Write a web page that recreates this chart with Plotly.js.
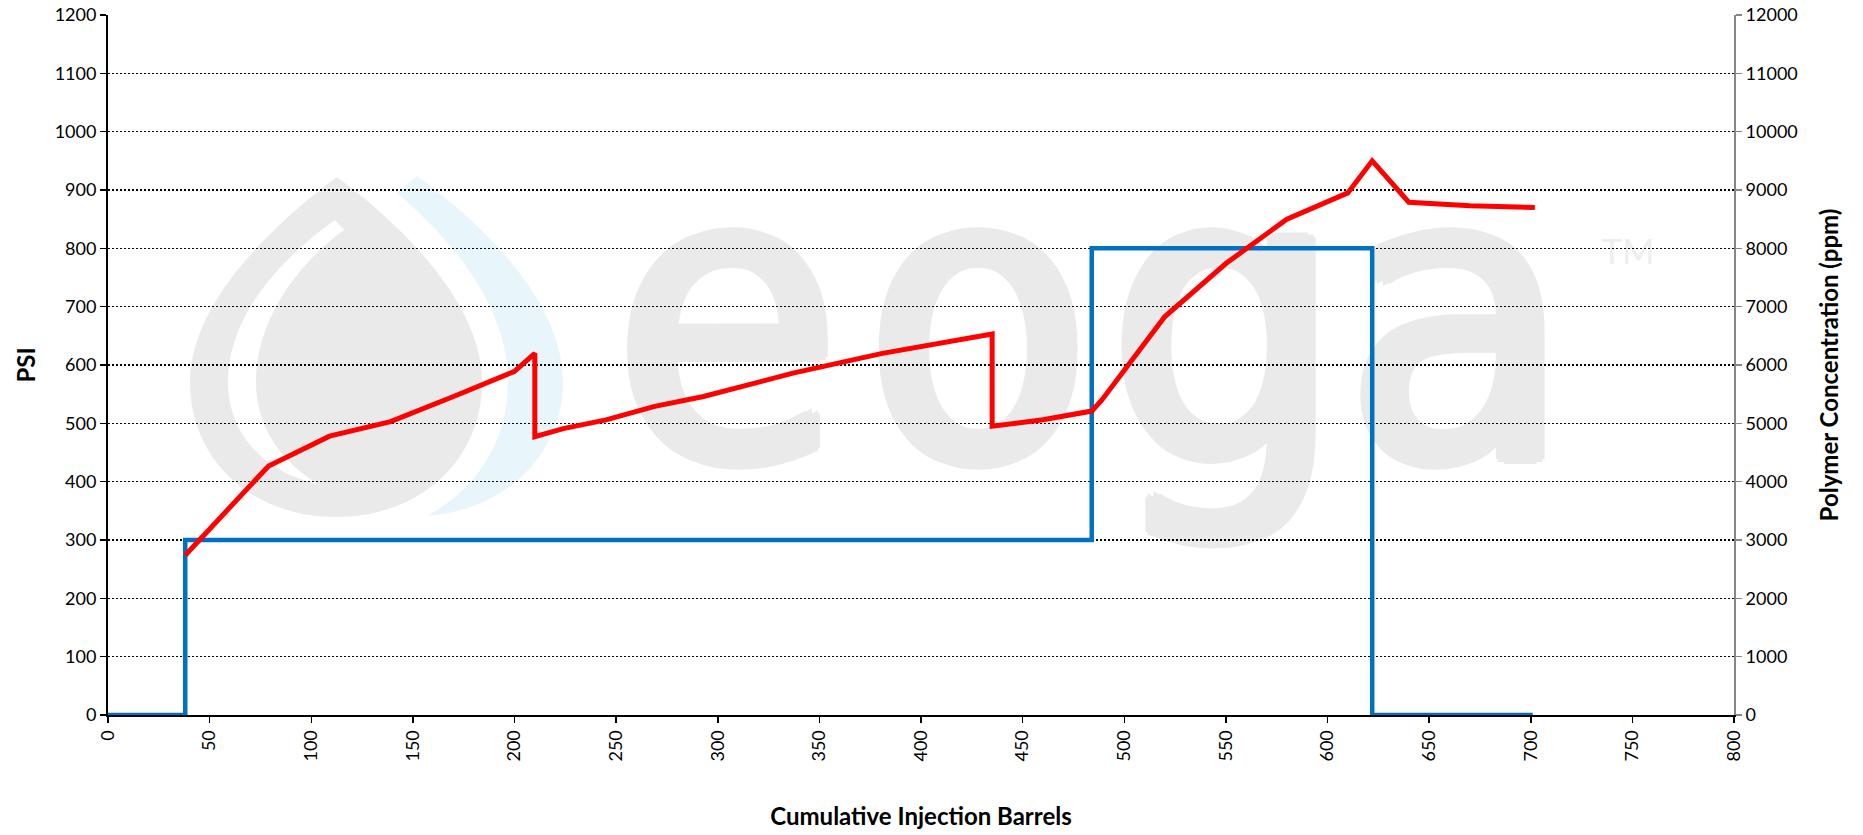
<!DOCTYPE html>
<html>
<head>
<meta charset="utf-8">
<script src="https://cdn.plot.ly/plotly-3.0.1.min.js"></script>
<style>
html,body{margin:0;padding:0;background:#ffffff;}
#chart{width:1863px;height:835px;}
</style>
</head>
<body>
<div id="chart"></div>
<script>
// ---- Data ----
const pressureBarrels = [38, 79, 109, 139, 170, 200, 210, 210, 224, 245, 269, 293, 337, 381, 435, 435, 460, 484, 489, 520, 550, 580, 610, 622, 640, 670, 702];
const pressurePsi     = [274, 427, 478, 503, 546, 589, 620, 477, 491, 506, 529, 546, 586, 620, 653, 495, 506, 521, 540, 683, 774, 850, 895, 950, 879, 873, 870];

const polymerBarrels = [0, 38, 484, 622, 701];
const polymerPpm     = [0, 3000, 8000, 0, 0];

const xTitle = 'Cumulative Injection Barrels';
const yLeftTitle = 'PSI';
const yRightTitle = 'Polymer Concentration (ppm)';
const watermarkLetters = ['e', 'o', 'g', 'a'];
const watermarkMark = 'TM';

// ---- Plot-area geometry (pixels) used to place the decorative watermark ----
const PL = 108, PR = 1734, PT = 15, PB = 715;
const PW = PR - PL, PH = PB - PT;
function px(X){ return (X - PL) / PW; }
function py(Y){ return (PB - Y) / PH; }
function toPaperPath(d){
  const toks = d.trim().split(/\s+/);
  const out = []; let isX = true;
  for (const t of toks){
    if (/^[A-Za-z]$/.test(t)){ out.push(t); isX = true; continue; }
    const v = parseFloat(t);
    out.push(isX ? px(v).toFixed(5) : py(v).toFixed(5));
    isX = !isX;
  }
  return out.join(' ');
}

const dropPath   = 'M 337 177 C 372 203 482 290 482 382 C 482 462 418 517 336 517 C 254 517 190 462 190 382 C 190 290 302 203 337 177 Z';
const glintPath  = 'M 335 220 C 290 252 228 310 228 382 C 228 432 262 472 318 484 C 282 462 256 428 256 382 C 256 318 300 262 344 230 Z';
const swooshPath = 'M 417 176 C 480 222 563 300 563 382 C 563 455 505 510 427 516 C 478 488 508 440 508 382 C 508 305 450 238 397 193 Z';

const letterCenters = [727, 978, 1225, 1458];
const thick = 'rgb(234,234,234)';
const letterShadow = [
  '8px 0 0 ' + thick, '-8px 0 0 ' + thick, '0 5px 0 ' + thick, '0 -5px 0 ' + thick,
  '6px 3px 0 ' + thick, '-6px 3px 0 ' + thick, '6px -3px 0 ' + thick, '-6px -3px 0 ' + thick,
  '4px 0 0 ' + thick, '-4px 0 0 ' + thick
].join(', ');
const letterFont = {family:"'DejaVu Sans Condensed', 'DejaVu Sans', sans-serif", size:405, color:'#EAEAEA', shadow: letterShadow};
const letterMidY = 290;

const shapes = [
  {type:'path', xref:'paper', yref:'paper', layer:'below', path: toPaperPath(dropPath), fillcolor:'#EAEAEA', line:{width:0}},
  {type:'path', xref:'paper', yref:'paper', layer:'below', path: toPaperPath(glintPath), fillcolor:'#FFFFFF', line:{width:0}},
  {type:'path', xref:'paper', yref:'paper', layer:'below', path: toPaperPath(swooshPath), fillcolor:'#E8F6FC', line:{width:0}}
];
watermarkLetters.forEach(function(ch, i){
  const cx = letterCenters[i];
  shapes.push({type:'rect', xref:'paper', yref:'paper', layer:'below',
    x0: px(cx - 110), x1: px(cx + 110), y0: py(letterMidY + 20), y1: py(letterMidY - 20),
    fillcolor:'rgba(0,0,0,0)', line:{width:0},
    label:{text: ch, textposition:'middle center', font: letterFont}});
});
shapes.push({type:'rect', xref:'paper', yref:'paper', layer:'below',
   x0: px(1600), x1: px(1656), y0: py(262), y1: py(238),
   fillcolor:'rgba(0,0,0,0)', line:{width:0},
   label:{text: watermarkMark, textposition:'middle center',
          font:{family:'Lato, sans-serif', size:35, color:'#EEEEEE'}}});

const tickFont = {family:'Lato, sans-serif', size:18, color:'#000000'};
const titleFont = {family:'Lato, sans-serif', size:24, color:'#000000', weight:'bold'};

const traces = [
  {
    x: polymerBarrels, y: polymerPpm, yaxis:'y', type:'scatter', mode:'lines',
    line:{color:'#0070C0', width:4.5, shape:'hv'},
    name:'Polymer Concentration', hoverinfo:'x+y'
  },
  {
    x: pressureBarrels, y: pressurePsi, yaxis:'y2', type:'scatter', mode:'lines',
    line:{color:'#FF0000', width:5},
    name:'PSI', hoverinfo:'x+y'
  }
];

const layout = {
  width:1863, height:835,
  margin:{l:PL, r:1863-PR, t:PT, b:835-PB, pad:0},
  paper_bgcolor:'#FFFFFF', plot_bgcolor:'#FFFFFF',
  showlegend:false,
  shapes: shapes,
  xaxis:{
    range:[0,800], tick0:0, dtick:50, tickangle:-90,
    ticks:'outside', ticklen:6, tickwidth:1.5, tickcolor:'#000000',
    showline:true, linecolor:'#000000', linewidth:2,
    showgrid:false, zeroline:false,
    tickfont: tickFont,
    title:{text:xTitle, font:titleFont, standoff:48}
  },
  yaxis:{
    side:'right', range:[0,12000], tick0:0, dtick:1000, tickformat:'d',
    ticks:'outside', ticklen:6, tickwidth:1.5, tickcolor:'#868686',
    showline:true, linecolor:'#868686', linewidth:2,
    showgrid:true, gridcolor:'#000000', gridwidth:1.3, griddash:'2px,2px',
    zeroline:false,
    tickfont: tickFont,
    title:{text:yRightTitle, font:titleFont, standoff:24}
  },
  yaxis2:{
    overlaying:'y', side:'left', anchor:'x', range:[0,1200], tick0:0, dtick:100,
    ticks:'outside', ticklen:6, tickwidth:1.5, tickcolor:'#000000',
    showline:true, linecolor:'#000000', linewidth:2,
    showgrid:false, zeroline:false,
    tickfont: tickFont,
    title:{text:yLeftTitle, font:titleFont, standoff:12}
  }
};

Plotly.newPlot('chart', traces, layout, {displayModeBar:false, staticPlot:true});
</script>
</body>
</html>
